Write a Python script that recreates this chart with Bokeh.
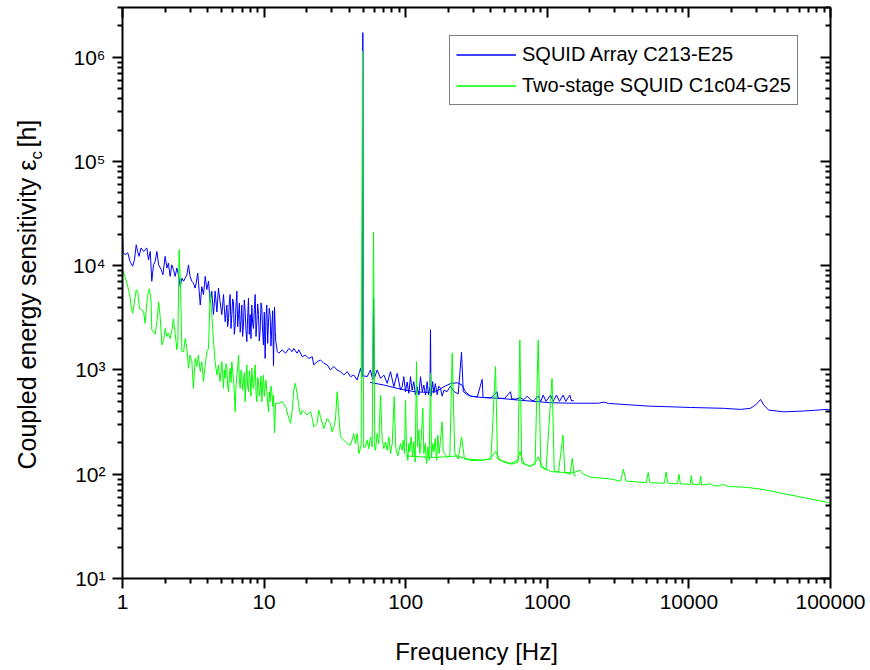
import numpy as np
from bokeh.plotting import figure
from bokeh.layouts import row
from bokeh.models import (LogAxis, FixedTicker, CustomJSTickFormatter, Range1d,
                          Legend, LegendItem)
from bokeh.core.properties import value
from bokeh.embed import file_html
from bokeh.resources import INLINE

FONT = "Liberation Sans"

# ---------------- data (frequency [Hz], coupled energy sensitivity [h]) ----------------
blue_lf = [
    (1.0, 20700), (1.01, 13300), (1.044, 12800), (1.09, 13300), (1.13, 11000), (1.18, 9900),
    (1.215, 11400), (1.25, 15900), (1.28, 13700), (1.31, 12300), (1.35, 14800), (1.41, 13700),
    (1.445, 14300), (1.485, 14800), (1.525, 11400), (1.57, 13700), (1.61, 7100), (1.655, 10200),
    (1.70, 11000), (1.75, 13700), (1.80, 10200), (1.875, 9200), (1.93, 8200), (2.0, 12300),
    (2.06, 9500), (2.11, 10600), (2.17, 7900), (2.23, 10200), (2.29, 9200), (2.355, 7900),
    (2.42, 9500), (2.485, 8200), (2.555, 6300), (2.625, 7600), (2.70, 7100), (2.77, 7600),
    (2.85, 8200), (2.925, 10200), (3.0, 7900), (3.09, 7100), (3.17, 6800), (3.26, 6100),
    (3.31, 6800), (3.40, 8500), (3.54, 4200), (3.63, 6300), (3.73, 5300), (3.84, 7900),
    (3.94, 5900), (4.05, 7100), (4.16, 4400), (4.27, 5700), (4.39, 3400), (4.51, 5700),
    (4.64, 3600), (4.76, 6100), (4.89, 4500), (5.03, 3400), (5.17, 5300), (5.31, 2900),
    (5.46, 4200), (5.53, 2600), (5.61, 3100), (5.69, 4600), (5.76, 5300), (5.84, 2500),
    (5.92, 3400), (6.0, 4800), (6.08, 4400), (6.16, 2200), (6.25, 2700), (6.33, 4100),
    (6.42, 5700), (6.51, 2600), (6.60, 3400), (6.69, 4400), (6.78, 2300), (6.87, 3000),
    (6.96, 4200), (7.05, 2100), (7.15, 2700), (7.25, 4700), (7.35, 3600), (7.45, 2400),
    (7.55, 1870), (7.65, 3200), (7.76, 4900), (7.86, 2200), (7.97, 3400), (8.08, 2000),
    (8.19, 4200), (8.30, 2800), (8.42, 2500), (8.53, 3800), (8.65, 5300), (8.77, 2100),
    (8.89, 2900), (9.01, 4300), (9.13, 3400), (9.25, 1900), (9.38, 2400), (9.51, 4400),
    (9.64, 3900), (9.77, 2300), (9.90, 1740), (10.03, 3600), (10.17, 1290), (10.31, 3100),
    (10.45, 4200), (10.6, 1800), (10.74, 2900), (10.88, 3900), (11.03, 3400), (11.18, 1700),
    (11.34, 2600), (11.5, 3700), (11.65, 1100), (11.84, 4000), (12.0, 2300),
    (12.1, 1870), (12.4, 1500), (12.7, 1450), (13.4, 1560), (14.2, 1450), (14.95, 1610),
    (15.8, 1500), (16.2, 1610), (17.1, 1450), (17.6, 1560), (18.6, 1340), (19.6, 1390),
    (20.7, 1290), (21.9, 1340), (22.4, 1120), (23.7, 1200), (25.0, 1250), (26.4, 1160),
    (27.9, 1120), (29.4, 1000), (31.1, 1080), (32.8, 1000), (34.6, 964), (36.6, 895),
    (38.6, 964), (40.8, 863), (43.0, 895), (45.4, 802), (48.0, 1040), (49.2, 863),
    (49.8, 1720000), (50.4, 880), (53.4, 863), (56.4, 1000), (58.6, 802), (59.3, 4900),
    (60.0, 830), (62.9, 1000), (66.4, 832), (70.1, 895), (74.0, 745), (78.1, 964),
    (82.5, 692), (87.1, 929), (91.9, 643), (94.4, 692), (97.0, 863), (99.7, 619),
    (102.4, 767), (105.2, 597), (108.1, 863), (111.0, 643), (114.1, 773), (117.0, 575),
    (120.5, 692), (124.0, 575), (127.2, 863), (131.0, 619), (134.3, 718), (138.0, 575),
    (141.8, 773), (145.0, 575), (148.5, 700), (149.7, 2430), (151.0, 560), (155.0, 773),
    (158.0, 600), (162.0, 740), (166.8, 580), (171.0, 700), (176.1, 667), (181.0, 560),
    (186.0, 640), (196.0, 620), (207.0, 700), (220.0, 620), (235.0, 590), (247.8, 1480),
    (255.0, 620), (272.0, 580), (290.0, 560), (320.0, 550), (346.7, 813), (352.0, 545),
    (400.0, 540), (442.0, 619), (450.0, 534), (500.0, 535), (549.7, 619), (560.0, 530),
    (600.0, 525), (640.0, 545), (683.0, 520), (720.0, 560), (761.0, 520), (800.0, 505),
    (862.0, 560), (900.0, 500), (935.0, 575), (980.0, 500), (1054.0, 575), (1100.0, 500),
    (1161.0, 575), (1220.0, 500), (1294.0, 575), (1350.0, 500), (1443.0, 575), (1480.0, 505),
    (1540.0, 510),
]

blue_hf = [
    (56, 760), (70, 718), (87, 667), (100, 640), (120, 615), (150, 610), (170, 640),
    (186, 692), (207, 740), (231, 755), (250, 718), (264, 619), (287, 562), (340, 546),
    (467, 534), (620, 515), (1054, 485), (1500, 480), (2300, 480), (2500, 492), (2700, 478),
    (5100, 451), (10300, 437), (17600, 429), (23100, 419), (27200, 429), (29500, 460),
    (32100, 522), (33800, 460), (36700, 412), (46800, 397), (64700, 404), (94700, 419),
    (100000, 412),
]

green_lf = [
    (1.0, 9200), (1.04, 7900), (1.09, 6300), (1.13, 5070), (1.15, 4070), (1.18, 3500),
    (1.215, 4500), (1.25, 5900), (1.28, 5700), (1.32, 3900), (1.37, 3780), (1.41, 3600),
    (1.445, 2810), (1.485, 4400), (1.525, 5700), (1.55, 6000), (1.59, 4700), (1.61, 2430),
    (1.655, 2300), (1.70, 2200), (1.75, 2900), (1.80, 4500), (1.84, 3400), (1.90, 1740),
    (1.96, 2000), (2.0, 2500), (2.06, 2100), (2.11, 2250), (2.17, 2000), (2.23, 2400),
    (2.29, 3100), (2.355, 2250), (2.42, 1560), (2.46, 1870), (2.51, 14300), (2.57, 6300),
    (2.625, 1500), (2.70, 1500), (2.77, 2000), (2.85, 1610), (2.925, 1040), (3.0, 1390),
    (3.09, 1200), (3.17, 666), (3.26, 1290), (3.35, 1080), (3.43, 1390), (3.54, 964),
    (3.63, 1200), (3.73, 773), (3.84, 1120), (3.94, 1500), (4.05, 1610), (4.16, 5500),
    (4.27, 3400), (4.39, 1870), (4.51, 1200), (4.64, 895), (4.76, 1120), (4.89, 773),
    (5.03, 1200), (5.10, 900), (5.17, 666), (5.24, 1000), (5.31, 832), (5.38, 1150),
    (5.46, 1040), (5.53, 700), (5.61, 619), (5.69, 900), (5.76, 1040), (5.84, 760),
    (5.92, 1200), (6.0, 950), (6.08, 832), (6.16, 600), (6.25, 397), (6.33, 700),
    (6.42, 895), (6.51, 1050), (6.60, 1390), (6.69, 800), (6.78, 666), (6.87, 1000),
    (6.96, 895), (7.05, 640), (7.15, 773), (7.25, 950), (7.35, 496), (7.45, 800),
    (7.55, 1120), (7.65, 700), (7.76, 619), (7.86, 980), (7.97, 832), (8.08, 560),
    (8.19, 1040), (8.30, 760), (8.42, 666), (8.53, 900), (8.65, 1120), (8.77, 600),
    (8.89, 496), (9.01, 850), (9.13, 773), (9.25, 560), (9.38, 666), (9.51, 880),
    (9.64, 496), (9.77, 720), (9.90, 895), (10.03, 560), (10.17, 666), (10.31, 800),
    (10.45, 619), (10.6, 480), (10.74, 397), (10.88, 620), (11.03, 496), (11.18, 700),
    (11.34, 619), (11.5, 450), (11.65, 575), (11.84, 250), (12.04, 479), (12.7, 479),
    (13.4, 497), (14.2, 445), (14.95, 343), (15.4, 307), (15.8, 413), (16.2, 643),
    (16.6, 745), (17.1, 597), (17.6, 445), (18.1, 370), (18.6, 413), (19.1, 398),
    (20.1, 370), (21.3, 398), (21.9, 343), (22.4, 285), (23.7, 307), (24.3, 413),
    (25.0, 356), (26.4, 275), (27.9, 343), (29.4, 307), (30.2, 255), (31.1, 285),
    (31.9, 330), (32.8, 619), (33.7, 370), (34.6, 228), (36.6, 212), (38.6, 197),
    (40.8, 190), (43.0, 246), (44.2, 197), (45.4, 246), (46.7, 158), (48.5, 190),
    (49.5, 1140000), (50.5, 180), (52.0, 183), (53.4, 212), (54.9, 176), (56.4, 228),
    (58.0, 183), (59.3, 21000), (60.5, 175), (61.2, 170), (62.9, 246), (64.6, 197),
    (66.4, 575), (68.2, 212), (70.1, 176), (72.0, 204), (74.0, 170), (76.0, 228),
    (78.1, 158), (80.3, 197), (83.0, 554), (85.0, 180), (88.0, 150), (91.9, 197),
    (94.4, 170), (96.0, 212), (98.1, 158), (99.7, 515), (101.3, 183), (103.5, 136),
    (105.2, 197), (106.9, 164), (109.3, 228), (111.7, 147), (114.1, 205), (116.7, 131),
    (119.2, 1200), (121.2, 183), (123.8, 265), (125.8, 158), (128.6, 212), (132.1, 428),
    (134.3, 158), (137.3, 197), (140.3, 127), (143.3, 183), (146.5, 136), (149.7, 929),
    (152.1, 147), (155.5, 197), (158.0, 164), (161.5, 220), (165.0, 136), (168.6, 237),
    (172.3, 158), (176.1, 212), (180.9, 318), (183.9, 170), (187.9, 158), (196.3, 147),
    (205.0, 150), (213.0, 1450), (222.0, 160), (235.0, 140), (248.0, 228), (260.0, 140),
    (300.0, 135), (350.0, 137), (400.0, 140), (431.0, 1080), (445.0, 140), (500.0, 130),
    (560.0, 125), (620.0, 130), (640.0, 1940), (660.0, 128), (750.0, 120), (820.0, 125),
    (862.0, 1940), (900.0, 118), (980.0, 110), (1080.0, 832), (1120.0, 108), (1200.0, 105),
    (1290.0, 237), (1330.0, 104), (1450.0, 100), (1500.0, 142), (1550.0, 98), (1600.0, 97),
]

green_hf = [
    (100, 150), (150, 145), (196, 147), (230, 150), (272, 140), (347, 136), (397, 141),
    (431, 165), (467, 136), (550, 127), (620, 136), (640, 165), (683, 127), (761, 118),
    (830, 132), (862, 147), (920, 118), (1054, 106), (1300, 104), (1500, 103), (1710, 109),
    (1800, 100), (2000, 94), (2800, 90), (3300, 86), (3440, 112), (3600, 86), (5000, 83),
    (5160, 104), (5300, 83), (6700, 82), (6900, 105), (7100, 82), (8300, 81), (8500, 100),
    (8700, 81), (10200, 80), (10400, 97), (10600, 80), (11900, 80), (12100, 96),
    (12300, 79), (12800, 79), (14200, 81), (15000, 78), (16000, 77), (17600, 80),
    (19000, 76), (20700, 76), (25800, 74.8), (33800, 71.3), (44400, 66), (58200, 61.4),
    (76200, 57.1), (94700, 53.8), (100000, 53),
]

x_major = [1, 10, 100, 1000, 10000, 100000]
x_minor = [m * 10 ** d for d in range(0, 5) for m in range(2, 10)]
y_major = [10, 100, 1000, 10000, 100000, 1000000]
y_minor = [m * 10 ** d for d in range(1, 7) for m in range(2, 10) if m * 10 ** d <= 3e6]

series_labels = ["SQUID Array C213-E25", "Two-stage SQUID C1c04-G25"]
x_label = "Frequency [Hz]"
y_label_main = "Coupled energy sensitivity \u03b5"
y_label_sub = "c"
y_label_unit = "[h]"

# ---------------- main figure ----------------
p = figure(frame_width=708, frame_height=571, x_axis_type="log", y_axis_type="log",
           x_range=Range1d(1, 1e5), y_range=Range1d(10, 3e6), title=None,
           output_backend="svg", toolbar_location=None,
           min_border_left=62, min_border_right=40, min_border_top=7, min_border_bottom=92)
p.xgrid.visible = False
p.ygrid.visible = False
p.outline_line_color = None
p.background_fill_color = "white"
p.border_fill_color = "white"

sup = CustomJSTickFormatter(code="""
const s = {"0":"\u2070","1":"\u00b9","2":"\u00b2","3":"\u00b3","4":"\u2074","5":"\u2075","6":"\u2076","7":"\u2077","8":"\u2078","9":"\u2079"};
const e = Math.round(Math.log10(tick));
return "10" + String(e).split("").map(c => s[c]).join("");
""")
plain = CustomJSTickFormatter(code="return String(Math.round(tick));")
empty = CustomJSTickFormatter(code="return '';")

def style_axis(ax, inner):
    ax.axis_line_width = 2
    ax.axis_line_color = "black"
    ax.major_tick_line_width = 2
    ax.minor_tick_line_width = 2
    ax.major_tick_line_color = "black"
    ax.minor_tick_line_color = "black"
    if inner:
        ax.major_tick_in, ax.major_tick_out = 10, 0
        ax.minor_tick_in, ax.minor_tick_out = 5, 0
        ax.major_label_text_font_size = "0px"
        ax.major_label_standoff = 0
    else:
        ax.major_tick_in, ax.major_tick_out = 0, 10
        ax.minor_tick_in, ax.minor_tick_out = 0, 5
        ax.major_label_text_font = FONT
        ax.major_label_text_font_size = "21px"
        ax.major_label_text_color = "black"

xa = p.xaxis[0]
xa.ticker = FixedTicker(ticks=x_major, minor_ticks=x_minor)
xa.formatter = plain
style_axis(xa, False)
xa.major_label_standoff = 6
xa.axis_label = x_label
xa.axis_label_text_font = FONT
xa.axis_label_text_font_size = "24px"
xa.axis_label_text_font_style = "normal"
xa.axis_label_text_color = "black"
xa.axis_label_standoff = 26

ya = p.yaxis[0]
ya.ticker = FixedTicker(ticks=y_major, minor_ticks=y_minor)
ya.formatter = sup
style_axis(ya, False)
ya.major_label_standoff = 7

top = LogAxis(ticker=FixedTicker(ticks=x_major, minor_ticks=x_minor), formatter=empty)
style_axis(top, True)
p.add_layout(top, "above")
right = LogAxis(ticker=FixedTicker(ticks=y_major, minor_ticks=y_minor), formatter=empty)
style_axis(right, True)
p.add_layout(right, "right")

def split(pairs):
    return [a for a, _ in pairs], [b for _, b in pairs]

BLUE = "#0000ff"
GREEN = "#00ff00"
bf1, bv1 = split(blue_lf)
bf2, bv2 = split(blue_hf)
gf1, gv1 = split(green_lf)
gf2, gv2 = split(green_hf)
rb1 = p.line(bf1, bv1, line_color=BLUE, line_width=1)
rb2 = p.line(bf2, bv2, line_color=BLUE, line_width=1)
rg2 = p.line(gf2, gv2, line_color=GREEN, line_width=1)
rg1 = p.line(gf1, gv1, line_color=GREEN, line_width=1)

legend = Legend(items=[LegendItem(label=series_labels[0], renderers=[rb1, rb2]),
                       LegendItem(label=series_labels[1], renderers=[rg1, rg2])],
                location=(327, 473), margin=0, padding=6, spacing=6,
                label_height=25, glyph_height=25, glyph_width=60, label_standoff=6,
                label_text_font=FONT, label_text_font_size="20px", label_text_color="black",
                border_line_color="black", border_line_width=1,
                background_fill_color="white", background_fill_alpha=1)
p.add_layout(legend, "center")

# ---------------- side strip holding the rotated y label (with subscript) ----------------
lab = figure(frame_width=60, frame_height=670, x_range=Range1d(0, 60), y_range=Range1d(0, 670),
             x_axis_location=None, y_axis_location=None, title=None, output_backend="svg",
             toolbar_location=None, min_border=0, min_border_left=0, min_border_right=0,
             min_border_top=0, min_border_bottom=0)
lab.xgrid.visible = False
lab.ygrid.visible = False
lab.outline_line_color = None
lab.border_fill_color = "white"

rot = dict(angle=np.pi / 2, text_align="left", text_baseline="alphabetic",
           text_font=value(FONT), text_color="black")
lab.text(x=[26], y=[670 - 462], text=[y_label_main], text_font_size="25px", **rot)
lab.text(x=[36], y=[670 - 152], text=[y_label_sub], text_font_size="17px", **rot)
lab.text(x=[26], y=[670 - 140], text=[y_label_unit], text_font_size="25px", **rot)

layout = row(lab, p, spacing=0)
open("out.html", "w").write(file_html(layout, INLINE))
